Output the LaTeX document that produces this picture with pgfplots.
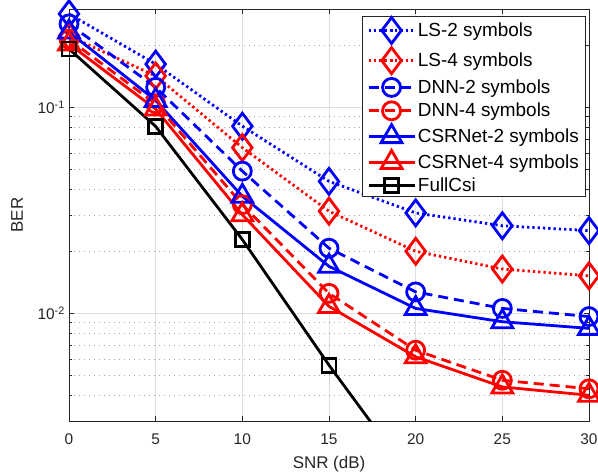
\documentclass[border=0pt]{standalone}
\usepackage{fontspec}
\setmainfont{Liberation Sans}
\usepackage{pgfplots}
\pgfplotsset{compat=1.18}
\definecolor{axgray}{gray}{0.15}
\definecolor{gridgray}{gray}{0.87}
\begin{document}
\begin{tikzpicture}
\path[use as bounding box] (-69bp,-55bp) rectangle (529bp,421bp);
\begin{axis}[
  at={(0,0)}, anchor=south west,
  scale only axis, width=520bp, height=412bp,
  ymode=log, xmin=0, xmax=30, ymin=0.003, ymax=0.3,
  xtick={0,5,...,30},
  ytick={0.01,0.1}, yticklabels={10\textsuperscript{-2},10\textsuperscript{-1}},
  minor ytick={0.003,0.004,0.005,0.006,0.007,0.008,0.009,0.02,0.03,0.04,0.05,0.06,0.07,0.08,0.09,0.2,0.3},
  xmajorgrids, ymajorgrids, yminorgrids,
  major grid style={gridgray, line width=0.6bp},
  minor grid style={black!35, line width=0.6bp, dash pattern=on 1bp off 4bp},
  axis line style={axgray, line width=0.8bp},
  tick style={axgray, line width=0.8bp},
  tick align=inside, major tick length=5bp, minor tick length=3bp,
  /pgf/number format/assume math mode=true,
  xticklabel style={font=\fontsize{15.5}{17}\selectfont, text=axgray, inner sep=0pt, anchor=north, yshift=-13bp},
  yticklabel style={font=\fontsize{15.5}{17}\selectfont, text=axgray, inner sep=0pt, anchor=east, xshift=-4bp},
  xlabel={SNR (dB)}, ylabel={BER},
  xlabel style={font=\fontsize{17}{19}\selectfont, text=axgray, inner sep=0pt, at={(axis description cs:0.5,0)}, anchor=base, yshift=-47bp},
  ylabel style={font=\fontsize{17}{19}\selectfont, text=axgray, inner sep=0pt, at={(axis description cs:-0.1,0.5)}, anchor=center},
  legend style={at={(0.994,0.982)}, anchor=north east, draw=axgray, line width=0.8bp, fill=white,
    font=\fontsize{19}{22}\selectfont, inner xsep=5bp, inner ysep=1bp, row sep=4.2bp, outer sep=0pt},
  legend cell align=left,
  legend image code/.code={\draw[mark repeat=2,mark phase=2] plot coordinates {(0bp,0bp) (23bp,0bp) (46bp,0bp)};},
]
\addplot[blue, line width=2.8bp, dash pattern=on 2.3bp off 3bp, mark=diamond, mark size=13bp, mark options={solid}] coordinates {
  (0,0.284) (5,0.162) (10,0.081) (15,0.0437) (20,0.0307) (25,0.0266) (30,0.0252)};
\addlegendentry{LS-2 symbols}
\addplot[red, line width=2.8bp, dash pattern=on 2.3bp off 3bp, mark=diamond, mark size=13bp, mark options={solid}] coordinates {
  (0,0.222) (5,0.142) (10,0.0637) (15,0.0313) (20,0.0200) (25,0.0164) (30,0.0152)};
\addlegendentry{LS-4 symbols}
\addplot[blue, line width=2.8bp, dash pattern=on 10bp off 6bp, mark=o, mark size=9bp, mark options={solid}] coordinates {
  (0,0.254) (5,0.125) (10,0.049) (15,0.0207) (20,0.0127) (25,0.01056) (30,0.00964)};
\addlegendentry{DNN-2 symbols}
\addplot[red, line width=2.8bp, dash pattern=on 10bp off 6bp, mark=o, mark size=9bp, mark options={solid}] coordinates {
  (0,0.214) (5,0.104) (10,0.0337) (15,0.0125) (20,0.00662) (25,0.00473) (30,0.0043)};
\addlegendentry{DNN-4 symbols}
\addplot[blue, line width=2.8bp, solid, mark=triangle, mark size=12bp] coordinates {
  (0,0.232) (5,0.108) (10,0.037) (15,0.0169) (20,0.01056) (25,0.0091) (30,0.00845)};
\addlegendentry{CSRNet-2 symbols}
\addplot[red, line width=2.8bp, solid, mark=triangle, mark size=12bp] coordinates {
  (0,0.203) (5,0.098) (10,0.0301) (15,0.0108) (20,0.00615) (25,0.00439) (30,0.0040)};
\addlegendentry{CSRNet-4 symbols}
\addplot[black, line width=2.8bp, solid, mark=square, mark size=7bp, mark indices={1,2,3,4}, forget plot] coordinates {
  (0,0.192) (5,0.0808) (10,0.0228) (15,0.0056) (20,0.0015)};
\addlegendimage{black, solid, line width=2.8bp, mark=square, mark size=7bp}
\addlegendentry{FullCsi}
\end{axis}
\end{tikzpicture}
\end{document}
